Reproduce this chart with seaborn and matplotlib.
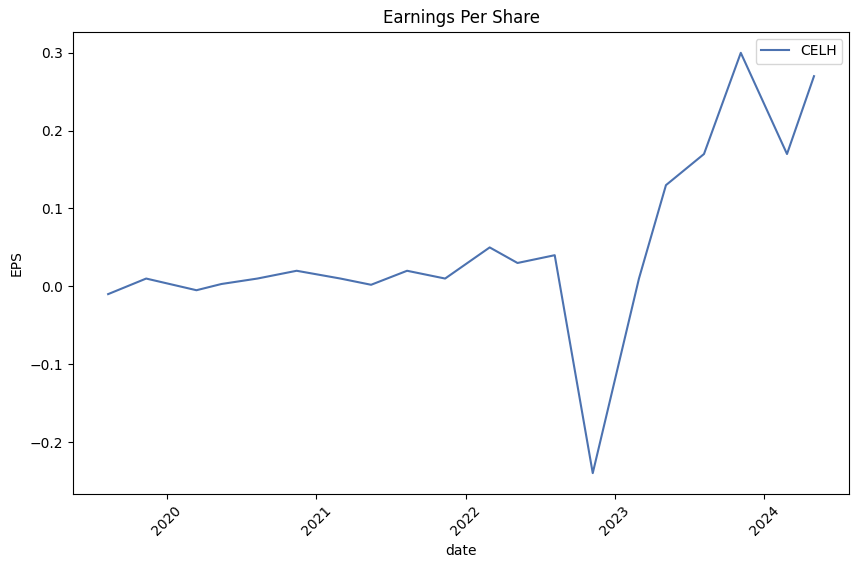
import matplotlib
matplotlib.use("Agg")
import matplotlib.pyplot as plt
import matplotlib.dates as mdates
import seaborn as sns
import pandas as pd

dates = ["2019-08-11", "2019-11-12", "2020-03-14", "2020-05-14", "2020-08-10",
         "2020-11-14", "2021-03-01", "2021-05-15", "2021-08-11", "2021-11-12",
         "2022-03-01", "2022-05-08", "2022-08-07", "2022-11-08", "2023-03-01",
         "2023-05-06", "2023-08-07", "2023-11-05", "2024-02-26", "2024-05-02"]
eps = [-0.01, 0.01, -0.005, 0.003, 0.01,
       0.02, 0.01, 0.002, 0.02, 0.01,
       0.05, 0.03, 0.04, -0.24, 0.01,
       0.13, 0.17, 0.30, 0.17, 0.27]
ticker = "CELH"

df = pd.DataFrame({"date": pd.to_datetime(dates), "EPS": eps})

fig = plt.figure(figsize=(8.57, 5.68), dpi=100)
ax = fig.add_axes([0.085, 0.130, 0.906, 0.814])
sns.lineplot(data=df, x="date", y="EPS", ax=ax, color=sns.color_palette("deep")[0], label=ticker)
ax.set_title("Earnings Per Share")
ax.xaxis.set_major_locator(mdates.YearLocator())
ax.xaxis.set_major_formatter(mdates.DateFormatter("%Y"))
plt.setp(ax.get_xticklabels(), rotation=45)
ax.legend(loc="upper right")
fig.savefig("out.png", dpi=100)
